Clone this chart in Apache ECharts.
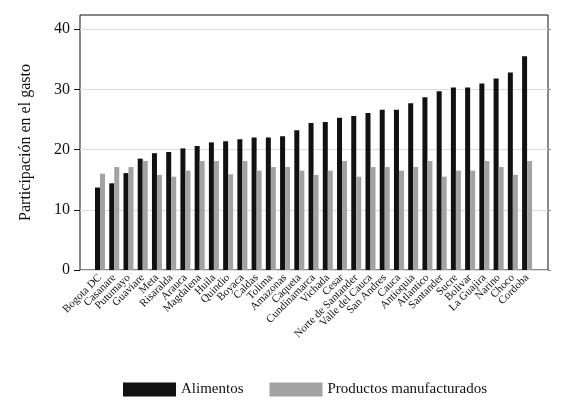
<!DOCTYPE html>
<html>
<head>
<meta charset="utf-8">
<script src="https://cdn.jsdelivr.net/npm/echarts@6/dist/echarts.min.js"></script>
<style>
  html, body { margin: 0; padding: 0; background: #fff; }
  #main { width: 563px; height: 409px; }
</style>
</head>
<body>
<div id="main"></div>
<script>
var departamentos = ['Bogota DC', 'Casanare', 'Putumayo', 'Guaviare', 'Meta', 'Risaralda', 'Arauca',
  'Magdalena', 'Huila', 'Quindio', 'Boyaca', 'Caldas', 'Tolima', 'Amazonas', 'Caqueta',
  'Cundinamarca', 'Vichada', 'Cesar', 'Norte de Santander', 'Valle del Cauca', 'San Andres',
  'Cauca', 'Antioquia', 'Atlantico', 'Santander', 'Sucre', 'Bolivar', 'La Guajira', 'Narino',
  'Choco', 'Cordoba']
var alimentos = [13.7, 14.4, 16.1, 18.5, 19.4, 19.6, 20.2, 20.6, 21.2, 21.4, 21.7, 22.0, 22.0, 22.2, 23.2,
  24.4, 24.6, 25.3, 25.6, 26.1, 26.6, 26.6, 27.7, 28.7, 29.7, 30.3, 30.3, 31.0, 31.8, 32.8, 35.5]
var manufacturados = [16.0, 17.1, 17.1, 18.1, 15.8, 15.5, 16.5, 18.1, 18.1, 15.9, 18.1, 16.5, 17.1, 17.1, 16.5,
  15.8, 16.5, 18.1, 15.5, 17.1, 17.1, 16.5, 17.1, 18.1, 15.5, 16.5, 16.5, 18.1, 17.1, 15.8, 18.1]
var yTicks = [0, 10, 20, 30, 40]

var fuente = 'Liberation Serif'
var yMax = 42.36

var chart = echarts.init(document.getElementById('main'))

var option = {
  animation: false,
  backgroundColor: '#fff',
  textStyle: { fontFamily: fuente },
  legend: {
    left: 118,
    top: 377,
    itemWidth: 53,
    itemHeight: 14,
    itemGap: 26,
    icon: 'rect',
    textStyle: { fontFamily: fuente, fontSize: 15, color: '#111' },
    data: ['Alimentos', 'Productos manufacturados']
  },
  grid: [
    // marco exterior con la escala
    { left: 80, top: 15, width: 468, height: 255, show: true, borderColor: '#111', borderWidth: 1 },
    // area interna de las barras
    { left: 92.9, top: 15, width: 441.3, height: 255 }
  ],
  xAxis: [
    { gridIndex: 0, type: 'value', show: false, min: 0, max: 1 },
    {
      gridIndex: 1,
      type: 'category',
      data: departamentos,
      axisLine: { show: false },
      axisTick: { show: false },
      axisLabel: {
        interval: 0,
        rotate: 45,
        margin: 6,
        fontFamily: fuente,
        fontSize: 11,
        color: '#111'
      }
    }
  ],
  yAxis: [
    {
      gridIndex: 0,
      type: 'value',
      min: 0,
      max: yMax,
      name: 'Participación en el gasto',
      nameLocation: 'middle',
      nameGap: 46,
      nameTextStyle: { fontFamily: fuente, fontSize: 16, color: '#111' },
      axisLine: { show: false },
      axisTick: { show: true, length: 6, lineStyle: { color: '#111' }, customValues: yTicks },
      axisLabel: { fontFamily: fuente, fontSize: 16, color: '#111', margin: 10, customValues: yTicks },
      splitLine: { show: true, lineStyle: { color: '#dcdcdc', width: 1 } }
    },
    {
      gridIndex: 0,
      type: 'value',
      position: 'right',
      min: 0,
      max: yMax,
      axisLine: { show: false },
      axisTick: { show: true, length: 3, lineStyle: { color: '#888' }, customValues: yTicks },
      axisLabel: { show: false },
      splitLine: { show: false }
    },
    { gridIndex: 1, type: 'value', min: 0, max: yMax, show: false }
  ],
  series: [
    {
      name: 'Alimentos',
      type: 'bar',
      xAxisIndex: 1,
      yAxisIndex: 2,
      data: alimentos,
      barWidth: 5,
      barGap: '0%',
      itemStyle: { color: '#111111' }
    },
    {
      name: 'Productos manufacturados',
      type: 'bar',
      xAxisIndex: 1,
      yAxisIndex: 2,
      data: manufacturados,
      barWidth: 5,
      barGap: '0%',
      itemStyle: { color: '#a2a2a2' }
    }
  ]
}

chart.setOption(option)
</script>
</body>
</html>
